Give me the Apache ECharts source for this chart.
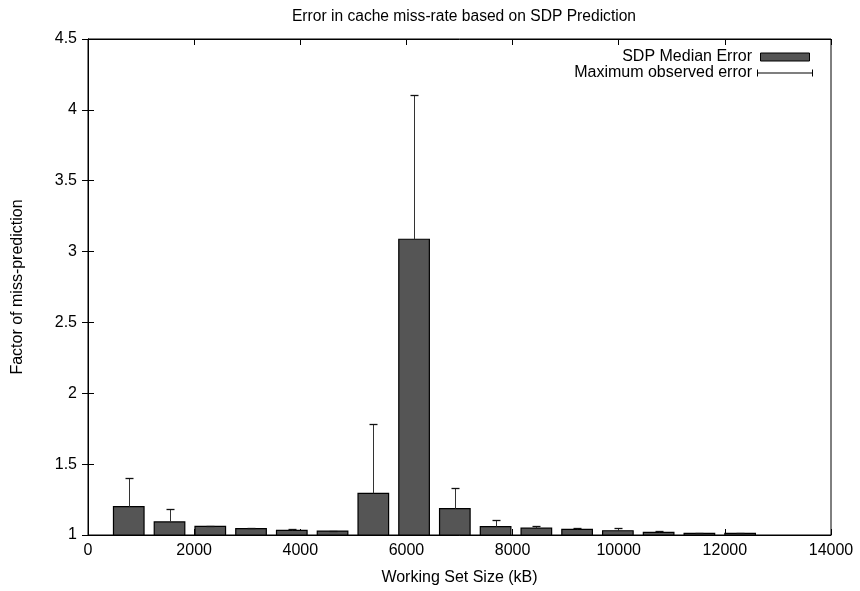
<!DOCTYPE html>
<html><head><meta charset="utf-8">
<script src="https://cdn.jsdelivr.net/npm/echarts@6/dist/echarts.min.js"></script>
<style>html,body{margin:0;padding:0;background:#fff}#c{width:860px;height:591px}</style>
</head><body><div id="c"></div>
<script>
const workingSetKB = [768,1536,2304,3072,3840,4608,5376,6144,6912,7680,8448,9216,9984,10752,11520,12288];
const medianError = [1.200,1.092,1.061,1.045,1.033,1.028,1.294,3.087,1.186,1.059,1.048,1.040,1.030,1.019,1.012,1.012];
const maxError    = [1.400,1.180,1.063,1.047,1.040,1.030,1.783,4.107,1.330,1.106,1.065,1.047,1.047,1.026,1.016,1.015];
const xTicks = [0,2000,4000,6000,8000,10000,12000,14000];
const yTicks = [1,1.5,2,2.5,3,3.5,4,4.5];

const FONT = 'Liberation Sans, Arial, Helvetica, sans-serif';
const FS = 16;
const BOX_W = 576; // bar width in kB
const chart = echarts.init(document.getElementById('c'), null, {renderer:'canvas'});

const barData = workingSetKB.map((x,i)=>[x, medianError[i]]);
const errData = workingSetKB.map((x,i)=>[x, medianError[i], maxError[i]]);

const axisCommon = {
  type:'value', axisLine:{show:true, lineStyle:{color:'#000', width:1}},
  axisTick:{show:true, inside:true, length:6, lineStyle:{color:'#000'}},
  splitLine:{show:false}
};

chart.setOption({
  animation:false,
  textStyle:{fontFamily:FONT},
  title:{text:'Error in cache miss-rate based on SDP Prediction', left:459, textAlign:'center', top:4,
    textStyle:{fontFamily:FONT, fontSize:15.6, fontWeight:'normal', color:'#000'}},
  grid:{left:88, right:29, top:39, bottom:56, show:true, borderColor:'#000', borderWidth:1},
  legend:{
    right:42, top:44, orient:'vertical', align:'right', itemGap:0, itemWidth:56, itemHeight:8,
    textStyle:{fontFamily:FONT, fontSize:FS, color:'#000', padding:[0,0,0,0]},
    data:[
      {name:'SDP Median Error', icon:'path://M7,0h49v8h-49z', itemStyle:{color:'#555555', borderColor:'#000', borderWidth:1}},
      {name:'Maximum observed error', icon:'path://M0,0.5h1v7h-1z M0,3.5h56v1h-56z M55,0.5h1v7h-1z', itemStyle:{color:'#000', borderWidth:0}}
    ]
  },
  xAxis:[
    Object.assign({}, axisCommon, {min:xTicks[0], max:xTicks[xTicks.length-1], interval:2000, position:'bottom',
      name:'Working Set Size (kB)', nameLocation:'middle', nameGap:35,
      nameTextStyle:{fontFamily:FONT, fontSize:FS, color:'#000'},
      axisLabel:{color:'#000', fontFamily:FONT, fontSize:FS, margin:8, showMinLabel:true, showMaxLabel:true,
        formatter:function(v){return String(v);}}}),
    Object.assign({}, axisCommon, {min:xTicks[0], max:xTicks[xTicks.length-1], interval:2000, position:'top',
      axisLabel:{show:false}})
  ],
  yAxis:[
    Object.assign({}, axisCommon, {min:yTicks[0], max:yTicks[yTicks.length-1], interval:0.5, position:'left',
      name:'Factor of miss-prediction', nameLocation:'middle', nameGap:62, nameRotate:90,
      nameTextStyle:{fontFamily:FONT, fontSize:FS, color:'#000'},
      axisLabel:{color:'#000', fontFamily:FONT, fontSize:FS, margin:11}}),
    Object.assign({}, axisCommon, {min:yTicks[0], max:yTicks[yTicks.length-1], interval:0.5, position:'right',
      axisLabel:{show:false}})
  ],
  series:[
    {
      name:'SDP Median Error', type:'custom', xAxisIndex:0, yAxisIndex:0, data:barData,
      encode:{x:0, y:1},
      itemStyle:{color:'#555555'},
      renderItem:function(params, api){
        const x = api.value(0), y = api.value(1);
        const p1 = api.coord([x - BOX_W/2, y]);
        const p2 = api.coord([x + BOX_W/2, yTicks[0]]);
        return {type:'rect', shape:{x:p1[0], y:p1[1], width:p2[0]-p1[0], height:p2[1]-p1[1]},
          style:{fill:'#555555', stroke:'#000', lineWidth:1.2}};
      }
    },
    {
      name:'Maximum observed error', type:'custom', xAxisIndex:0, yAxisIndex:0, data:errData,
      encode:{x:0, y:[1,2]},
      itemStyle:{color:'#000'},
      renderItem:function(params, api){
        const x = api.value(0);
        const lo = api.coord([x, api.value(1)]);
        const hi = api.coord([x, api.value(2)]);
        const cx = Math.round(lo[0]) + 0.5;
        const hy = Math.round(hi[1]) + 0.5;
        return {type:'group', children:[
          {type:'line', shape:{x1:cx, y1:lo[1], x2:cx, y2:hy}, style:{stroke:'#333', lineWidth:1}},
          {type:'line', shape:{x1:cx-4, y1:hy, x2:cx+4, y2:hy}, style:{stroke:'#111', lineWidth:1.3}}
        ]};
      }
    }
  ]
});
</script></body></html>
